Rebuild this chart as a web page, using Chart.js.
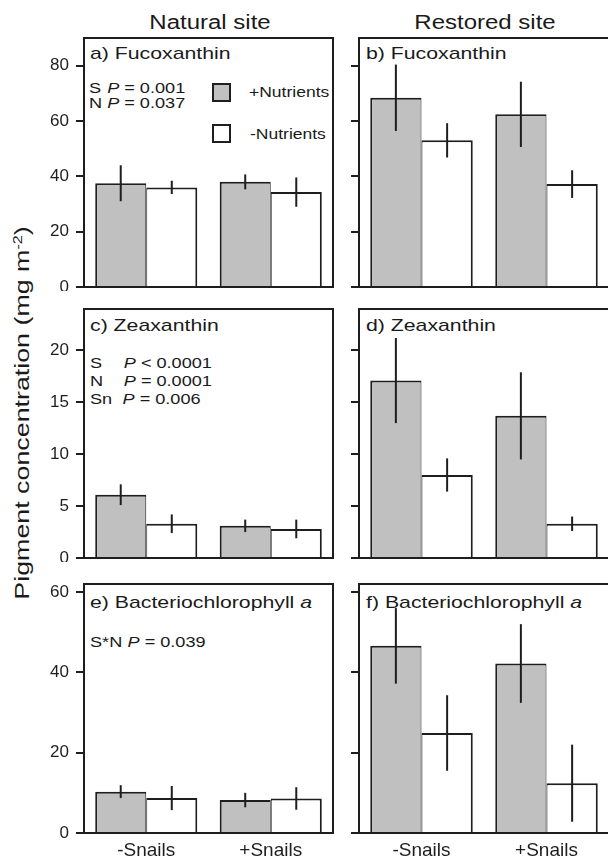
<!DOCTYPE html>
<html>
<head>
<meta charset="utf-8">
<script src="https://cdn.jsdelivr.net/npm/chart.js@4.4.0/dist/chart.umd.min.js"></script>
<style>
body { margin: 0; background: #fff; width: 608px; height: 863px; overflow: hidden; position: relative;
       font-family: "Liberation Sans", Arial, sans-serif; color: #1a1a1a; }
canvas { position: absolute; }
.t { position: absolute; white-space: nowrap; line-height: 1; transform-origin: 0 50%; transform: translateY(-50%) scaleX(1.25); font-size: 17px; }
.p { position: absolute; white-space: nowrap; line-height: 1; transform-origin: 0 50%; transform: translateY(-50%) scaleX(1.25); font-size: 14.5px; }
.c { position: absolute; white-space: nowrap; line-height: 1; transform: translate(-50%, -50%) scaleX(1.2); }
.k { display: inline-block; }
.sw { position: absolute; box-sizing: border-box; width: 19px; height: 19px; border: 2px solid #1e1e1e; }
</style>
</head>
<body>

<div class="c" style="left:210px; top:22px; font-size:20px;">Natural site</div>
<div class="c" style="left:485px; top:22px; font-size:20px;">Restored site</div>
<div class="c" style="left:22px; top:413px; font-size:20px; transform: translate(-50%, -50%) rotate(-90deg) scaleX(1.34);">Pigment concentration (mg m<sup style="font-size:0.6em">-2</sup>)</div>

<!-- panel texts -->
<div class="t" style="left:90px; top:53px;">a) Fucoxanthin</div>
<div class="p" style="left:89px; top:88px;"><span class="k" style="width:14.5px">S</span><i>P</i> = 0.001</div>
<div class="p" style="left:89px; top:102.5px;"><span class="k" style="width:14.5px">N</span><i>P</i> = 0.037</div>
<div class="sw" style="left:212px; top:83px; background:#c0c0c0;"></div>
<div class="sw" style="left:212px; top:124px; background:#fff;"></div>
<div class="p" style="left:249px; top:92px; font-size:14px;">+Nutrients</div>
<div class="p" style="left:250px; top:134px; font-size:14px;">-Nutrients</div>

<div class="t" style="left:366px; top:53px;">b) Fucoxanthin</div>

<div class="t" style="left:90px; top:325px;">c) Zeaxanthin</div>
<div class="p" style="left:90px; top:362.5px;"><span class="k" style="width:27px">S</span><i>P</i> &lt; 0.0001</div>
<div class="p" style="left:90px; top:380.5px;"><span class="k" style="width:27px">N</span><i>P</i> = 0.0001</div>
<div class="p" style="left:90px; top:398.5px;"><span class="k" style="width:26px">Sn</span><i>P</i> = 0.006</div>

<div class="t" style="left:366px; top:325px;">d) Zeaxanthin</div>

<div class="t" style="left:90px; top:602px;">e) Bacteriochlorophyll <i>a</i></div>
<div class="p" style="left:90px; top:642px;"><span class="k" style="width:30px">S*N</span><i>P</i> = 0.039</div>

<div class="t" style="left:366px; top:602px;">f) Bacteriochlorophyll <i>a</i></div>

<script>
// categories and tick labels
const categories = ['-Snails', '+Snails'];
const fucoTicks = [0, 20, 40, 60, 80];
const zeaTicks = [0, 5, 10, 15, 20];
const bchlTicks = [0, 20, 40, 60];
const rowMax = [90, 24, 62];

// Fucoxanthin
const fucoNatPlus = [37.5, 38.0];
const fucoNatPlusErr = [6.5, 2.7];
const fucoNatMinus = [36.0, 34.3];
const fucoNatMinusErr = [2.4, 5.3];
const fucoResPlus = [68.4, 62.4];
const fucoResPlusErr = [12.0, 11.8];
const fucoResMinus = [53.0, 37.2];
const fucoResMinusErr = [6.2, 5.0];

// Zeaxanthin
const zeaNatPlus = [6.1, 3.1];
const zeaNatPlusErr = [1.0, 0.6];
const zeaNatMinus = [3.3, 2.8];
const zeaNatMinusErr = [0.9, 0.9];
const zeaResPlus = [17.1, 13.7];
const zeaResPlusErr = [4.1, 4.2];
const zeaResMinus = [8.0, 3.3];
const zeaResMinusErr = [1.6, 0.7];

// Bacteriochlorophyll a
const bchlNatPlus = [10.3, 8.2];
const bchlNatPlusErr = [1.6, 1.8];
const bchlNatMinus = [8.7, 8.6];
const bchlNatMinusErr = [3.0, 2.8];
const bchlResPlus = [46.6, 42.2];
const bchlResPlusErr = [9.4, 9.8];
const bchlResMinus = [24.9, 12.4];
const bchlResMinusErr = [9.4, 9.6];

const rowTicks = [fucoTicks, zeaTicks, bchlTicks];

const panels = [
    { row: 0, col: 0, plus: fucoNatPlus, plusErr: fucoNatPlusErr, minus: fucoNatMinus, minusErr: fucoNatMinusErr },
    { row: 0, col: 1, plus: fucoResPlus, plusErr: fucoResPlusErr, minus: fucoResMinus, minusErr: fucoResMinusErr },
    { row: 1, col: 0, plus: zeaNatPlus, plusErr: zeaNatPlusErr, minus: zeaNatMinus, minusErr: zeaNatMinusErr },
    { row: 1, col: 1, plus: zeaResPlus, plusErr: zeaResPlusErr, minus: zeaResMinus, minusErr: zeaResMinusErr },
    { row: 2, col: 0, plus: bchlNatPlus, plusErr: bchlNatPlusErr, minus: bchlNatMinus, minusErr: bchlNatMinusErr },
    { row: 2, col: 1, plus: bchlResPlus, plusErr: bchlResPlusErr, minus: bchlResMinus, minusErr: bchlResMinusErr }
];

// layout
const colLeft = [84, 359];
const colWidth = [249, 250];
const axisW = [48, 20];
const rowTop = [38, 309, 584];
const boxH = 249;
const xAxisH = 30;
const ink = '#1e1e1e';

Chart.defaults.font.family = '"Liberation Sans", Arial, sans-serif';
Chart.defaults.color = ink;

// error bars drawn at the centre of each bar
const errorBars = {
    id: 'errorBars',
    afterDatasetsDraw(chart) {
        const ctx = chart.ctx;
        const y = chart.scales.y;
        ctx.save();
        ctx.strokeStyle = ink;
        ctx.lineWidth = 2;
        chart.data.datasets.forEach((ds, i) => {
            chart.getDatasetMeta(i).data.forEach((bar, j) => {
                const v = ds.data[j], e = ds.errors[j];
                ctx.beginPath();
                ctx.moveTo(bar.x, y.getPixelForValue(v + e));
                ctx.lineTo(bar.x, y.getPixelForValue(v - e));
                ctx.stroke();
            });
        });
        ctx.restore();
    }
};

// frame around the plot area
const frame = {
    id: 'frame',
    afterDraw(chart) {
        const a = chart.chartArea;
        const ctx = chart.ctx;
        ctx.save();
        ctx.strokeStyle = ink;
        ctx.lineWidth = 2;
        ctx.strokeRect(a.left, a.top, a.right - a.left, a.bottom - a.top);
        ctx.restore();
    }
};

panels.forEach(p => {
    const bottomRow = p.row === 2;
    const canvas = document.createElement('canvas');
    const w = axisW[p.col] + colWidth[p.col] + 4;
    const h = 4 + boxH + (bottomRow ? xAxisH : 4);
    canvas.width = w;
    canvas.height = h;
    canvas.style.left = (colLeft[p.col] - axisW[p.col]) + 'px';
    canvas.style.top = (rowTop[p.row] - 4) + 'px';
    document.body.appendChild(canvas);

    const ticks = rowTicks[p.row];

    new Chart(canvas, {
        type: 'bar',
        data: {
            labels: categories,
            datasets: [
                {
                    label: '+Nutrients',
                    data: p.plus,
                    errors: p.plusErr,
                    backgroundColor: '#c0c0c0',
                    borderColor: ink,
                    borderWidth: { top: 2, left: 2, right: 1, bottom: 0 },
                    borderSkipped: false
                },
                {
                    label: '-Nutrients',
                    data: p.minus,
                    errors: p.minusErr,
                    backgroundColor: '#ffffff',
                    borderColor: ink,
                    borderWidth: { top: 2, left: 1, right: 2, bottom: 0 },
                    borderSkipped: false
                }
            ]
        },
        options: {
            responsive: false,
            animation: false,
            events: [],
            layout: { autoPadding: false, padding: { top: 4, right: 4, left: 0, bottom: bottomRow ? 0 : 4 } },
            datasets: { bar: { categoryPercentage: 0.82, barPercentage: 1 } },
            scales: {
                x: {
                    display: bottomRow,
                    grid: { display: false, drawTicks: false },
                    border: { display: false },
                    ticks: { font: { size: 19 }, padding: 6, color: ink },
                    afterFit: s => {
                        s.height = bottomRow ? xAxisH : 0;
                        s.paddingLeft = s.paddingRight = 0;
                    }
                },
                y: {
                    min: 0,
                    max: rowMax[p.row],
                    afterBuildTicks: s => { s.ticks = ticks.map(v => ({ value: v })); },
                    afterFit: s => {
                        s.width = axisW[p.col];
                        s.paddingTop = s.paddingBottom = 0;
                    },
                    grid: { drawOnChartArea: false, drawTicks: true, tickLength: 8, color: ink, lineWidth: 2 },
                    border: { display: false },
                    ticks: { display: p.col === 0, font: { size: 17 }, padding: 7, color: ink }
                }
            },
            plugins: { legend: { display: false }, tooltip: { enabled: false } }
        },
        plugins: [errorBars, frame]
    });
});
</script>
</body>
</html>
